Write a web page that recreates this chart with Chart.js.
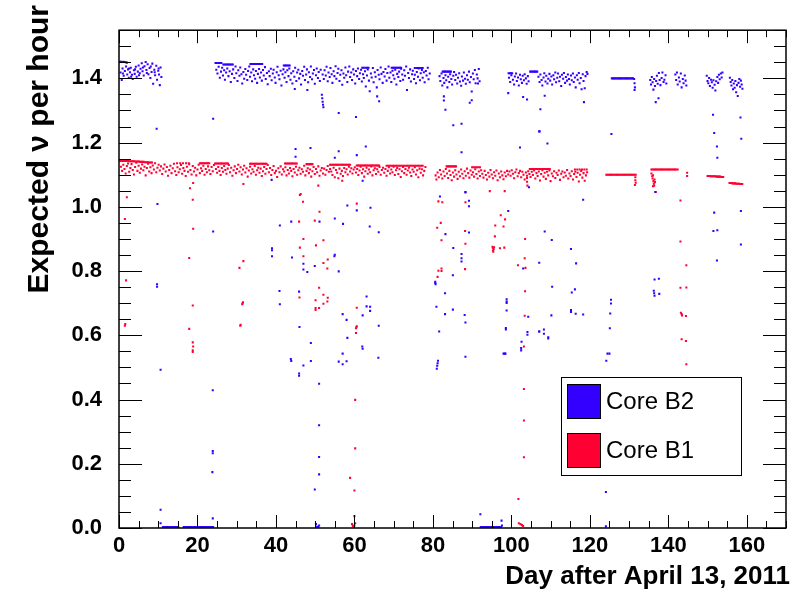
<!DOCTYPE html>
<html>
<head>
<meta charset="utf-8">
<script src="https://cdn.jsdelivr.net/npm/chart.js@4.4.1/dist/chart.umd.min.js"></script>
<style>
  body { margin: 0; background: #fff; }
</style>
</head>
<body>
<canvas id="myChart" width="796" height="591"></canvas>
<script>
// Core B2 (blue): main band as [day, rate]
const b2Band = [
  [0.2,1.452],[0.5,1.452],[0.8,1.451],[1.1,1.452],[1.4,1.451],[1.7,1.450],[2.0,1.449],
  [0.4,1.418],[0.7,1.395],[0.9,1.431],[1.2,1.408],[1.5,1.423],[1.8,1.437],[2.1,1.412],[2.3,1.428],[2.5,1.402],[2.8,1.419],[3.0,1.433],[3.3,1.411],[3.5,1.398],[3.8,1.425],[4.0,1.414],[4.3,1.436],[4.5,1.405],[4.8,1.421],[5.0,1.440],[5.3,1.416],[5.5,1.430],[5.8,1.447],[6.0,1.422],[6.3,1.409],[6.5,1.438],[6.8,1.451],[7.0,1.426],[7.3,1.444],[7.5,1.413],[7.8,1.432],[8.0,1.401],[8.3,1.420],[8.5,1.446],[8.7,1.383],[9.0,1.427],[9.2,1.410],[9.5,1.439],[9.7,1.396],[10.0,1.424],[10.2,1.412],[10.4,1.379],[10.6,1.434],[10.8,1.404],
  [1.0,1.415],[2.6,1.431],[3.1,1.405],[4.1,1.428],[5.1,1.410],[6.1,1.434],[7.1,1.417],[8.1,1.437],[9.1,1.419],[10.1,1.431],
  [24.6,1.448],[24.9,1.448],[25.2,1.448],[25.5,1.448],[25.8,1.448],[26.1,1.448],[26.6,1.443],[26.9,1.443],[27.2,1.443],[27.5,1.443],[27.8,1.443],[28.1,1.443],[28.4,1.443],[28.7,1.443],[29.0,1.443],
  [33.5,1.445],[33.8,1.445],[34.1,1.445],[34.4,1.445],[34.7,1.445],[35.0,1.445],[35.3,1.445],[35.6,1.445],[35.9,1.445],[36.2,1.445],[36.5,1.445],
  [42.0,1.440],[42.3,1.440],[42.6,1.440],[42.9,1.440],[43.2,1.440],[43.5,1.440],
  [62.0,1.433],[62.4,1.433],[62.8,1.433],[63.2,1.433],[63.6,1.433],
  [69.5,1.433],[69.8,1.433],[70.1,1.433],[70.4,1.433],[70.7,1.433],[71.0,1.433],[71.3,1.433],[71.6,1.433],[71.9,1.433],
  [75.4,1.432],[75.8,1.432],[76.2,1.432],[76.6,1.432],[77.0,1.432],[77.4,1.432],
  [24.8,1.427],[25.1,1.415],[25.4,1.436],[25.7,1.402],[26.0,1.421],[26.3,1.433],[26.5,1.409],[26.8,1.425],[27.0,1.396],[27.3,1.418],[27.6,1.431],[27.9,1.407],[28.2,1.422],[28.5,1.389],[28.8,1.414],[29.1,1.428],[29.4,1.401],[29.7,1.437],[29.9,1.416],[30.2,1.392],[30.4,1.425],[30.7,1.408],[30.9,1.434],[31.2,1.413],[31.4,1.384],[31.7,1.420],[31.9,1.399],[32.2,1.429],[32.4,1.411],[32.7,1.395],[32.9,1.423],[33.2,1.437],[33.4,1.405],[33.7,1.418],[33.9,1.391],[34.2,1.428],[34.4,1.410],[34.7,1.399],[34.9,1.423],[35.2,1.386],[35.4,1.414],[35.7,1.429],[35.9,1.403],[36.2,1.418],[36.4,1.393],[36.7,1.426],[36.9,1.409],[37.2,1.435],[37.4,1.398],[37.7,1.417],[37.9,1.382],[38.2,1.422],[38.4,1.407],[38.7,1.430],[38.9,1.394],[39.2,1.415],[39.4,1.427],[39.7,1.403],[39.9,1.386],[40.2,1.419],[40.4,1.436],[40.7,1.410],[40.9,1.397],[41.2,1.424],[41.4,1.378],[41.7,1.413],[41.9,1.428],[42.2,1.402],[42.4,1.419],[42.7,1.389],[42.9,1.425],[43.2,1.407],[43.4,1.431],[43.7,1.396],[43.9,1.416],[44.2,1.384],[44.4,1.422],[44.7,1.405],[44.9,1.433],[45.2,1.392],[45.4,1.418],[45.7,1.427],[45.9,1.400],[46.2,1.414],[46.4,1.381],[46.7,1.423],[46.9,1.408],[47.2,1.436],[47.4,1.395],[47.7,1.412],[47.9,1.428],[48.2,1.388],[48.4,1.419],[48.7,1.404],[48.9,1.437],[49.2,1.397],[49.4,1.415],[49.7,1.426],[49.9,1.383],[50.2,1.410],[50.4,1.431],[50.7,1.401],[50.9,1.420],[51.2,1.392],[51.4,1.427],[51.9,1.412],[52.2,1.398],[52.4,1.425],[52.7,1.409],[52.9,1.436],[53.2,1.391],[53.4,1.418],[53.7,1.404],[53.9,1.432],[54.2,1.413],[54.4,1.386],[54.7,1.422],[54.9,1.407],[55.2,1.438],[55.4,1.399],[55.7,1.417],[55.9,1.430],[56.2,1.392],[56.4,1.411],[56.7,1.425],[56.9,1.380],[57.2,1.415],[57.4,1.402],[57.7,1.434],[57.9,1.410],[58.2,1.389],[58.4,1.421],[58.7,1.437],[58.9,1.404],[59.2,1.418],[59.4,1.395],[59.7,1.428],[59.9,1.412],[60.2,1.384],[60.4,1.423],[60.7,1.407],[60.9,1.431],[61.2,1.398],[61.4,1.416],[61.7,1.427],[61.9,1.390],[62.2,1.413],[62.4,1.401],[62.7,1.422],[62.9,1.375],[63.2,1.409],[63.4,1.428],[63.7,1.393],[63.9,1.360],[64.2,1.415],[64.4,1.403],[64.7,1.432],[64.9,1.388],[65.2,1.419],[65.4,1.405],[65.7,1.372],[65.9,1.426],[66.2,1.411],[66.4,1.397],[66.7,1.434],[66.9,1.414],[67.2,1.386],[67.4,1.420],[67.7,1.406],[67.9,1.429],[68.2,1.393],[68.4,1.417],[68.7,1.437],[68.9,1.402],[69.2,1.418],[69.4,1.389],[69.7,1.424],[69.9,1.410],[70.2,1.399],[70.4,1.427],[70.7,1.381],[70.9,1.414],[71.2,1.404],[71.4,1.421],[71.7,1.392],[71.9,1.430],[72.2,1.412],[72.4,1.396],[72.7,1.425],[72.9,1.408],[73.2,1.437],[73.4,1.364],[73.7,1.417],[73.9,1.401],[74.2,1.428],[74.4,1.390],[74.7,1.413],[74.9,1.424],[75.2,1.398],[75.4,1.411],[75.7,1.385],[75.9,1.420],[76.2,1.405],[76.4,1.431],[76.7,1.394],[76.9,1.416],[77.2,1.426],[77.4,1.402],[77.7,1.419],[77.9,1.388],[78.2,1.423],[78.4,1.409],[78.7,1.433],[78.9,1.397],[79.2,1.415],
  [82.5,1.421],[82.8,1.421],[83.1,1.421],[83.4,1.421],[83.7,1.421],[84.0,1.421],[84.3,1.421],[84.6,1.421],
  [81.7,1.407],[81.9,1.392],[82.2,1.415],[82.4,1.378],[82.7,1.401],[82.9,1.386],[83.2,1.410],[83.4,1.394],[83.7,1.372],[83.9,1.405],[84.2,1.389],[84.4,1.413],[84.7,1.398],[84.9,1.381],[85.2,1.408],[85.4,1.420],[85.7,1.395],[85.9,1.411],[86.2,1.384],[86.4,1.402],[86.7,1.416],[86.9,1.390],[87.2,1.377],[87.4,1.406],[87.7,1.393],[87.9,1.418],[88.2,1.399],[88.4,1.383],[88.7,1.410],[88.9,1.396],[89.2,1.421],[89.4,1.388],[89.7,1.404],[89.9,1.359],[90.2,1.415],[90.4,1.397],[90.7,1.426],[90.9,1.385],[91.2,1.412],[91.4,1.400],[91.7,1.429],[91.9,1.391],
  [99.3,1.416],[99.6,1.416],[99.9,1.416],[100.2,1.416],[104.8,1.421],[105.1,1.421],[105.4,1.421],[105.7,1.421],[106.0,1.421],[106.3,1.421],[106.6,1.421],
  [99.4,1.402],[99.7,1.389],[100.0,1.410],[100.4,1.396],[100.7,1.381],[100.9,1.406],[101.2,1.415],[101.4,1.392],[101.7,1.403],[101.9,1.378],[102.2,1.411],[102.4,1.397],[102.7,1.386],[102.9,1.408],[103.2,1.394],[103.4,1.413],[103.7,1.400],[103.9,1.383],[104.2,1.407],[104.4,1.391],[106.9,1.405],[107.2,1.389],[107.4,1.412],[107.7,1.395],[107.9,1.378],[108.2,1.403],[108.4,1.416],[108.7,1.390],[108.9,1.408],[109.2,1.384],[109.4,1.399],[109.7,1.414],[109.9,1.393],[110.2,1.406],[110.4,1.381],[110.7,1.410],[110.9,1.397],[111.2,1.418],[111.4,1.388],[111.7,1.402],[111.9,1.415],[112.2,1.391],[112.4,1.405],[112.7,1.376],[112.9,1.411],[113.2,1.399],[113.4,1.417],[113.7,1.386],[113.9,1.404],[114.2,1.393],[114.4,1.412],[114.7,1.398],[114.9,1.381],[115.2,1.409],[115.4,1.394],[115.7,1.415],[115.9,1.389],[116.2,1.403],[116.4,1.372],[116.7,1.410],[116.9,1.396],[117.2,1.417],[117.4,1.385],[117.7,1.401],[117.9,1.366],[118.2,1.413],[118.4,1.392],[118.7,1.369],[118.9,1.407],[119.2,1.420],[119.4,1.414],
  [125.6,1.40],[125.9,1.40],[126.2,1.40],[126.5,1.40],[126.8,1.40],[127.1,1.40],[127.4,1.40],[127.7,1.40],[128.0,1.40],[128.3,1.40],[128.6,1.40],[128.9,1.40],[129.2,1.40],[129.5,1.40],[129.8,1.40],[130.1,1.40],[130.4,1.40],[130.7,1.40],[131.0,1.40],[131.3,1.398],[131.4,1.385],[131.5,1.372],[131.4,1.364],
  [135.4,1.395],[135.6,1.381],[135.8,1.404],[136.0,1.388],[136.2,1.365],[136.4,1.398],[136.6,1.376],[136.9,1.392],[137.1,1.408],[137.3,1.383],[137.6,1.417],[137.8,1.395],[138.0,1.379],[138.3,1.401],[138.5,1.418],[138.8,1.389],[139.0,1.396],[139.3,1.410],[139.5,1.384],
  [141.8,1.412],[142.0,1.395],[142.2,1.418],[142.4,1.381],[142.7,1.403],[142.9,1.390],[143.2,1.415],[143.4,1.372],[143.7,1.398],[143.9,1.385],[144.2,1.409],[144.4,1.393],[144.6,1.378],
  [149.8,1.408],[150.0,1.392],[150.2,1.385],[150.4,1.401],[150.6,1.376],[150.9,1.396],[151.1,1.388],[151.3,1.371],[151.5,1.394],[151.8,1.380],[152.0,1.362],[152.2,1.391],[152.5,1.404],[152.7,1.386],[152.9,1.411],[153.1,1.397],[153.4,1.415],[153.6,1.403],[153.8,1.418],
  [155.7,1.402],[155.9,1.389],[156.1,1.378],[156.3,1.395],[156.5,1.366],[156.7,1.384],[156.9,1.371],[157.1,1.392],[157.3,1.357],[157.5,1.379],[157.7,1.345],[157.9,1.386],[158.1,1.398],[158.3,1.374],[158.5,1.393],[158.7,1.381],[158.9,1.368]
];

// Core B2: days with zero rate
const b2Zero = [
  [11.2,0.003],[11.6,0.003],[12.0,0.003],[12.4,0.003],[12.8,0.003],[13.2,0.003],[13.6,0.003],[14.0,0.003],[14.4,0.003],[14.8,0.003],[15.1,0.003],
  [16.5,0.003],[16.9,0.003],[17.3,0.003],[17.7,0.003],[18.1,0.003],[18.5,0.003],[18.9,0.003],[19.3,0.003],[19.7,0.003],[20.1,0.003],[20.5,0.003],[20.9,0.003],[21.3,0.003],[21.7,0.003],[22.1,0.003],[22.5,0.003],[22.9,0.003],[23.3,0.003],[23.7,0.003],[24.0,0.003],
  [50.2,0.012],[50.5,0.004],[50.8,0.003],[51.0,0.008],
  [92.2,0.003],[92.6,0.003],[93.0,0.003],[93.4,0.003],[93.8,0.003],[94.2,0.003],[94.6,0.003],[95.0,0.003],[95.4,0.003],[95.8,0.003],[96.2,0.003],[96.6,0.003],[97.0,0.003],[97.4,0.003],[97.6,0.008]
];

// Core B2: scattered low points
const b2Low = [
  [9.6,1.243],[9.8,1.009],[9.7,0.759],[9.7,0.751],[10.6,0.493],[10.6,0.057],[10.6,0.015],
  [24.0,1.274],[24.0,0.923],[23.9,0.429],[23.9,0.24],[23.9,0.233],[23.8,0.174],[23.9,0.03],
  [38.9,1.084],[45.0,1.18],[45.0,1.156],[48.8,1.183],[44.8,1.367],[48.0,1.364],
  [51.7,1.349],[51.8,1.338],[51.9,1.327],[52.0,1.318],[52.1,1.31],
  [56.0,1.292],[60.4,1.28],[65.8,1.344],[66.3,1.329],[62.9,1.188],[60.6,1.161],[56.0,1.173],[55.0,1.153],[62.1,1.081],
  [83.2,1.302],[82.8,1.344],[82.8,1.331],[85.2,1.254],[87.3,1.259],[89.9,1.332],[89.4,1.324],[87.3,1.17],[88.3,1.046],
  [99.2,1.354],[103.0,1.342],[104.0,1.334],[102.2,1.185],[104.5,1.061],[107.1,1.235],[91.5,1.384],
  [43.9,0.954],[41.0,0.942],[51.1,0.954],[39.0,0.871],[39.0,0.865],[39.0,0.846],[44.1,0.842],[47.0,0.823],[47.0,0.805],[48.0,0.797],[49.9,0.816],[40.9,0.738],[45.9,0.736],[41.0,0.697],[46.0,0.626],[48.9,0.576],[43.8,0.526],[43.9,0.52],[48.9,0.52],[47.0,0.506],[45.9,0.481],[45.9,0.474],
  [51.0,0.449],[51.0,0.32],[51.0,0.221],[51.0,0.167],[49.9,0.12],
  [58.2,1.004],[60.6,0.989],[64.1,0.997],[55.0,0.964],[57.1,0.947],[63.9,0.939],[66.2,0.921],[55.0,0.851],[54.9,0.846],[56.0,0.799],[63.1,0.721],[63.1,0.69],[64.0,0.689],[64.0,0.676],[57.0,0.666],[62.1,0.662],[58.0,0.648],[66.2,0.63],[58.2,0.592],[62.0,0.565],[62.1,0.558],[57.0,0.543],[66.1,0.53],[56.0,0.518],[58.0,0.519],[57.0,0.51],
  [81.8,1.032],[88.3,1.045],[89.2,1.019],[89.2,1.002],[83.2,0.915],[89.2,0.92],[85.2,0.872],[87.3,0.853],[87.3,0.84],[87.3,0.83],[85.1,0.787],[80.6,0.767],[80.6,0.763],[80.7,0.759],[83.1,0.731],[80.9,0.689],[83.1,0.666],[85.1,0.68],[88.1,0.663],[88.3,0.64],[81.6,0.612],[81.3,0.521],[81.2,0.513],[81.1,0.505],[81.0,0.496],[88.3,0.533],
  [99.2,0.987],[103.0,0.808],[98.8,0.712],[98.8,0.705],[98.8,0.701],[98.8,0.677],[104.3,0.658],[98.6,0.623],[98.6,0.618],[104.1,0.61],[104.1,0.602],[102.6,0.58],[102.5,0.56],[102.5,0.553],[98.0,0.543],[98.3,0.543],[98.5,0.543],[107.1,0.612],
  [92.1,0.043],[97.5,0.023],
  [118.3,1.022],[108.5,0.923],[110.3,0.897],[115.2,0.869],[107.1,0.826],[116.5,0.824],[110.4,0.751],[116.2,0.743],[115.4,0.733],[125.4,0.711],[125.4,0.699],[125.2,0.668],[115.2,0.679],[115.2,0.673],[116.4,0.667],[118.3,0.665],[110.2,0.662],[107.1,0.612],[108.3,0.618],[108.3,0.605],[109.4,0.594],[109.4,0.59],[125.1,0.622],[124.5,0.543],[125.0,0.543],[124.2,0.521],[124.1,0.112],[124.1,0.005],
  [136.7,1.046],[136.5,0.774],[137.6,0.776],[136.3,0.739],[136.4,0.731],[136.5,0.723],[137.7,0.729],
  [151.7,0.982],[158.5,0.987],[151.5,0.925],[152.5,0.927],[158.5,0.883],[152.4,0.833],
  [108.5,1.346],[107.4,1.304],[118.5,1.326],[107.2,1.235],[109.2,1.197],[125.5,1.227],[136.8,1.326],[137.5,1.338],[151.4,1.287],[158.4,1.278],[151.7,1.23],[152.4,1.188],[158.6,1.212],[152.5,1.153]
];

// Core B1 (red): main band
const b1Band = [
  [0.3,1.143],[0.6,1.143],[0.9,1.143],[1.2,1.143],[1.5,1.143],[1.8,1.143],[2.1,1.143],[2.4,1.143],[2.7,1.142],[3.0,1.142],[3.3,1.142],[3.6,1.142],[3.9,1.142],[4.2,1.141],[4.5,1.141],[4.8,1.141],[5.1,1.141],[5.4,1.140],[5.7,1.140],[6.0,1.140],[6.3,1.140],[6.6,1.139],[6.9,1.139],[7.2,1.139],[7.5,1.139],[7.8,1.138],[8.1,1.138],[8.4,1.138],
  [0.5,1.125],[0.8,1.112],[1.1,1.131],[1.4,1.118],[1.7,1.104],[2.0,1.127],[2.3,1.135],[2.6,1.109],[2.9,1.121],[3.2,1.133],[3.5,1.115],[3.8,1.101],[4.1,1.124],[4.4,1.137],[4.7,1.112],[5.0,1.128],[5.3,1.106],[5.6,1.119],[5.9,1.132],[6.2,1.114],[6.5,1.125],[6.8,1.098],[7.1,1.121],[7.4,1.134],[7.7,1.110],[8.0,1.123],[8.3,1.105],[8.6,1.129],[8.9,1.116],[9.2,1.136],[9.5,1.108],[9.8,1.122],[10.1,1.131],[10.4,1.113],[10.7,1.126],[11.0,1.102],[11.3,1.119],[11.6,1.132],[11.9,1.110],[12.2,1.124],[12.5,1.097],[12.8,1.115],[13.1,1.128],[13.4,1.105],[13.7,1.120],[14.0,1.134],[14.3,1.111],[14.6,1.099],[14.9,1.123],[15.2,1.108],[15.5,1.117],[15.8,1.130],[16.1,1.103],[16.4,1.121],[16.7,1.112],[17.0,1.096],[17.3,1.125],[17.6,1.109],[17.9,1.133],[18.2,1.115],[18.5,1.101],[18.8,1.127],[19.1,1.110],[19.4,1.122],[19.7,1.098],[20.0,1.116],[20.3,1.131],[20.6,1.105],[20.9,1.120],[21.2,1.112],[21.5,1.128],[21.8,1.100],[22.1,1.118],[22.4,1.108],[22.7,1.126],[23.0,1.114],[23.3,1.102],[23.6,1.124],[23.9,1.111],[24.2,1.130],
  [14.8,1.136],[15.6,1.136],[16.3,1.136],[17.1,1.136],[17.8,1.136],
  [20.6,1.136],[20.9,1.136],[21.2,1.136],[21.5,1.136],[21.8,1.136],[22.1,1.136],[22.4,1.136],[22.7,1.136],[23.0,1.136],
  [24.5,1.135],[24.8,1.135],[25.1,1.135],[25.4,1.135],[25.7,1.135],[26.0,1.135],[26.3,1.135],[26.6,1.135],[26.9,1.135],[27.2,1.135],[27.5,1.135],[27.8,1.135],
  [33.4,1.134],[33.7,1.134],[34.0,1.134],[34.3,1.134],[34.6,1.134],[34.9,1.134],[35.2,1.134],[35.5,1.134],[35.8,1.134],[36.1,1.134],[36.4,1.134],[36.7,1.134],[37.0,1.134],[37.3,1.134],[37.6,1.134],
  [42.3,1.135],[42.6,1.135],[42.9,1.135],[43.2,1.135],[43.5,1.135],[43.8,1.135],[44.1,1.135],[44.4,1.135],[44.7,1.135],[45.0,1.135],[45.3,1.135],
  [47.8,1.133],[48.1,1.133],[48.4,1.133],[48.7,1.133],[49.0,1.133],[49.3,1.133],
  [53.8,1.131],[54.1,1.131],[54.4,1.131],[54.7,1.131],[55.0,1.131],[55.3,1.131],[55.6,1.131],[55.9,1.131],[56.2,1.131],[56.5,1.131],[56.8,1.131],[57.1,1.131],[57.4,1.131],[57.7,1.131],[58.0,1.131],[58.3,1.131],[58.6,1.131],[58.9,1.131],
  [60.6,1.129],[60.9,1.129],[61.2,1.129],[61.5,1.129],[61.8,1.129],[62.1,1.129],[62.4,1.129],[62.7,1.129],[63.0,1.129],[63.3,1.129],[63.6,1.129],[63.9,1.129],[64.2,1.129],[64.5,1.129],[64.8,1.129],[65.1,1.129],[65.4,1.129],[65.7,1.129],[66.0,1.129],[66.3,1.129],
  [68.2,1.128],[68.6,1.128],[69.0,1.128],[69.4,1.128],[69.8,1.128],[70.2,1.128],[70.6,1.128],[71.0,1.128],[71.4,1.128],[71.8,1.128],[72.2,1.128],[72.6,1.128],[73.0,1.128],[73.4,1.128],[73.8,1.128],[74.2,1.128],[74.6,1.128],[75.0,1.128],[75.4,1.128],[75.8,1.128],[76.2,1.128],[76.6,1.128],[77.0,1.128],[77.4,1.128],
  [24.7,1.118],[25.0,1.106],[25.3,1.124],[25.6,1.112],[25.9,1.099],[26.2,1.121],[26.5,1.109],[26.8,1.127],[27.1,1.115],[27.4,1.103],[27.7,1.119],[28.0,1.130],[28.3,1.108],[28.6,1.122],[28.9,1.097],[29.2,1.114],[29.5,1.126],[29.8,1.105],[30.1,1.118],[30.4,1.131],[30.7,1.110],[31.0,1.123],[31.3,1.101],[31.6,1.116],[31.9,1.128],[32.2,1.107],[32.5,1.120],[32.8,1.094],[33.1,1.113],[33.4,1.125],[33.7,1.104],[34.0,1.117],[34.3,1.109],[34.6,1.127],[34.9,1.100],[35.2,1.114],[35.5,1.122],[35.8,1.106],[36.1,1.119],[36.4,1.096],[36.7,1.111],[37.0,1.124],[37.3,1.103],[37.6,1.118],[37.9,1.130],[38.2,1.108],[38.5,1.121],[38.8,1.099],[39.1,1.115],[39.4,1.127],[39.7,1.105],[40.0,1.112],[40.3,1.093],[40.6,1.120],[40.9,1.108],[41.2,1.126],[41.5,1.101],[41.8,1.117],[42.1,1.110],[42.4,1.123],[42.7,1.098],[43.0,1.115],[43.3,1.104],[43.6,1.121],[43.9,1.112],[44.2,1.095],[44.5,1.118],[44.8,1.107],[45.1,1.125],[45.4,1.100],[45.7,1.114],[46.0,1.122],[46.3,1.103],[46.6,1.117],[46.9,1.109],[47.2,1.128],[47.5,1.098],[47.8,1.112],[48.1,1.120],[48.4,1.105],[48.7,1.116],[49.0,1.094],[49.3,1.111],[49.6,1.124],[49.9,1.102],[50.2,1.118],[50.5,1.108],[50.8,1.126],[51.1,1.097],[51.4,1.113],[51.7,1.121],[52.0,1.104],[52.3,1.119],[52.6,1.100],[52.9,1.115],[53.2,1.127],[53.5,1.109],[53.8,1.118],
  [54.1,1.110],[54.4,1.099],[54.7,1.122],[55.0,1.092],[55.3,1.115],[55.6,1.106],[55.9,1.089],[56.2,1.119],[56.5,1.103],[56.8,1.112],[57.1,1.096],[57.4,1.121],[57.7,1.108],[58.0,1.117],[58.3,1.101],[58.6,1.125],[58.9,1.110],[59.2,1.120],[59.5,1.104],[59.8,1.116],[60.1,1.123],[60.4,1.107],[60.7,1.118],[61.0,1.099],[61.3,1.113],[61.6,1.125],[61.9,1.105],[62.2,1.117],[62.5,1.094],[62.8,1.111],[63.1,1.122],[63.4,1.103],[63.7,1.116],[64.0,1.108],[64.3,1.126],[64.6,1.098],[64.9,1.114],[65.2,1.120],[65.5,1.102],[65.8,1.117],[66.1,1.109],[66.4,1.124],[66.7,1.100],[67.0,1.115],[67.3,1.122],[67.6,1.106],[67.9,1.118],[68.2,1.097],[68.5,1.112],[68.8,1.123],[69.1,1.104],[69.4,1.116],[69.7,1.108],[70.0,1.125],[70.3,1.099],[70.6,1.114],[70.9,1.121],[71.2,1.102],[71.5,1.117],[71.8,1.093],[72.1,1.111],[72.4,1.124],[72.7,1.105],[73.0,1.118],[73.3,1.100],[73.6,1.113],[73.9,1.122],[74.2,1.107],[74.5,1.096],[74.8,1.116],[75.1,1.109],[75.4,1.123],[75.7,1.101],[76.0,1.114],[76.3,1.092],[76.6,1.119],[76.9,1.106],[77.2,1.117],[77.5,1.098],[77.8,1.112],[78.1,1.124],
  [83.5,1.126],[83.8,1.126],[84.1,1.126],[84.4,1.126],[84.7,1.126],[85.0,1.126],[85.3,1.126],[85.6,1.126],[85.9,1.126],
  [90.0,1.123],[90.4,1.123],[90.8,1.123],[91.2,1.123],[91.6,1.123],[92.0,1.123],
  [80.7,1.098],[80.9,1.085],[81.2,1.107],[81.5,1.092],[81.8,1.115],[82.1,1.101],[82.4,1.088],[82.7,1.110],[83.0,1.096],[83.3,1.118],[83.6,1.104],[83.9,1.090],[84.2,1.112],[84.5,1.099],[84.8,1.083],[85.1,1.107],[85.4,1.094],[85.7,1.114],[86.0,1.101],[86.3,1.087],[86.6,1.109],[86.9,1.095],[87.2,1.116],[87.5,1.103],[87.8,1.089],[88.1,1.111],[88.4,1.097],[88.7,1.119],[89.0,1.105],[89.3,1.091],[89.6,1.113],[89.9,1.100],[90.2,1.108],[90.5,1.094],[90.8,1.117],[91.1,1.102],[91.4,1.088],[91.7,1.110],[92.0,1.096],[92.3,1.114],[92.6,1.103],[92.9,1.091],[93.2,1.112],[93.5,1.099],[93.8,1.085],[94.1,1.106],[94.4,1.094],[94.7,1.115],[95.0,1.101],[95.3,1.089],[95.6,1.108],[95.9,1.097],[96.2,1.113],[96.5,1.083],[96.8,1.104],[97.1,1.092],[97.4,1.110],[97.7,1.098],[98.0,1.086],[98.3,1.107],[98.6,1.095],[98.9,1.112],[99.2,1.101],
  [104.7,1.118],[105.0,1.118],[105.3,1.118],[105.6,1.118],[105.9,1.118],[106.2,1.118],[106.5,1.118],[106.8,1.118],[107.1,1.118],[107.4,1.118],[107.7,1.118],[108.0,1.118],[108.3,1.118],[108.6,1.118],[108.9,1.118],[109.2,1.118],[109.5,1.118],[109.8,1.118],
  [116.2,1.116],[116.8,1.116],[117.4,1.116],[118.0,1.116],[118.6,1.116],[119.2,1.116],
  [99.5,1.110],[99.8,1.097],[100.1,1.114],[100.4,1.103],[100.7,1.089],[101.0,1.108],[101.3,1.116],[101.6,1.095],[101.9,1.105],[102.2,1.112],[102.5,1.092],[102.8,1.109],[103.1,1.100],[103.4,1.085],[103.7,1.107],[104.0,1.097],[104.3,1.111],[104.6,1.102],[104.9,1.093],[105.2,1.109],[105.5,1.099],[105.8,1.113],[106.1,1.088],[106.4,1.105],[106.7,1.096],[107.0,1.110],[107.3,1.082],[107.6,1.102],[107.9,1.114],[108.2,1.094],[108.5,1.106],[108.8,1.087],[109.1,1.109],[109.4,1.098],[109.7,1.113],[110.0,1.080],[110.3,1.104],[110.6,1.095],[110.9,1.111],[111.2,1.090],[111.5,1.106],[111.8,1.099],[112.1,1.113],[112.4,1.084],[112.7,1.103],[113.0,1.110],[113.3,1.092],[113.6,1.107],[113.9,1.097],[114.2,1.115],[114.5,1.088],[114.8,1.104],[115.1,1.096],[115.4,1.111],[115.7,1.085],[116.0,1.102],[116.3,1.109],[116.6,1.093],[116.9,1.106],[117.2,1.079],[117.5,1.100],[117.8,1.112],[118.1,1.091],[118.4,1.105],[118.7,1.081],[119.0,1.098],[119.3,1.108],
  [124.2,1.100],[124.5,1.100],[124.8,1.100],[125.1,1.100],[125.4,1.100],[125.7,1.100],[126.0,1.100],[126.3,1.100],[126.6,1.100],[126.9,1.100],[127.2,1.100],[127.5,1.100],[127.8,1.100],[128.1,1.100],[128.4,1.100],[128.7,1.100],[129.0,1.100],[129.3,1.100],[129.6,1.100],[129.9,1.100],[130.2,1.100],[130.5,1.100],[130.8,1.100],[131.1,1.100],[131.4,1.100],[131.7,1.100],
  [131.6,1.092],[131.6,1.083],[131.7,1.075],[131.5,1.068],
  [135.7,1.116],[136.0,1.116],[136.3,1.116],[136.6,1.116],[136.9,1.116],[137.2,1.116],[137.5,1.116],[137.8,1.116],[138.1,1.116],[138.4,1.116],[138.7,1.116],[139.0,1.116],[139.3,1.116],[139.6,1.116],[139.9,1.116],[140.2,1.116],[140.5,1.116],[140.8,1.116],[141.1,1.116],[141.4,1.116],[141.7,1.116],[142.0,1.116],[142.4,1.116],
  [135.7,1.104],[135.9,1.095],[136.0,1.088],[136.2,1.080],[136.3,1.072],[136.4,1.066],[136.1,1.098],[136.5,1.085],[136.6,1.077],[144.8,1.106],[144.8,1.096],
  [150.0,1.096],[150.25,1.096],[150.5,1.096],[150.75,1.095],[151.0,1.095],[151.25,1.095],[151.5,1.095],[151.75,1.095],[152.0,1.095],[152.25,1.094],[152.5,1.094],[152.75,1.094],[153.0,1.094],[153.25,1.094],[153.5,1.093],[153.75,1.093],[154.0,1.093],
  [155.6,1.074],[155.85,1.074],[156.1,1.074],[156.35,1.073],[156.6,1.073],[156.85,1.073],[157.1,1.073],[157.35,1.072],[157.6,1.072],[157.85,1.072],[158.1,1.072],[158.35,1.071],[158.6,1.071],[158.85,1.071]
];

// Core B1: scattered low points
const b1Low = [
  [2.0,1.03],[1.5,0.962],[1.8,0.771],[1.5,0.63],[1.6,0.635],
  [18.1,1.058],[18.8,1.022],[18.9,1.074],[18.9,0.932],[17.9,0.841],[18.8,0.693],[17.9,0.62],[18.8,0.578],[18.9,0.565],[18.8,0.553],[18.8,0.548],
  [31.7,1.071],[31.7,0.831],[30.7,0.81],[31.5,0.70],[31.6,0.703],[31.4,0.697],[30.9,0.63],[31.0,0.633],
  [46.1,1.037],[46.9,1.016],[46.3,1.04],[50.8,1.066],[51.1,0.985],[45.9,0.954],[49.9,0.957],[47.0,0.90],[52.1,0.896],[46.1,0.873],[50.2,0.88],[47.0,0.846],[53.2,0.836],[52.1,0.825],[53.1,0.808],[51.0,0.748],[52.1,0.726],[53.2,0.717],[46.0,0.718],[50.1,0.709],[52.1,0.698],[53.1,0.705],[50.1,0.685],[50.1,0.679],[51.0,0.685],
  [56.9,1.081],[60.6,1.01],[60.6,0.686],[60.5,0.625],[60.6,0.628],[60.4,0.622],[60.4,0.607],
  [60.2,0.399],[60.2,0.248],[58.9,0.156],[60.0,0.117],[60.0,0.037],[59.4,0.012],[59.6,0.006],[59.8,0.004],[60.0,0.008],[60.2,0.015],
  [94.5,1.049],[98.3,1.049],[104.0,1.09],[104.0,1.078],[104.1,1.066],
  [81.4,1.017],[82.4,1.014],[88.3,1.014],[82.0,0.95],[81.1,0.935],[88.2,0.925],[82.2,0.896],[88.3,0.885],[97.3,0.974],[98.4,0.961],[95.9,0.942],[98.0,0.939],[95.8,0.908],[95.2,0.876],[95.3,0.872],[95.5,0.868],[95.3,0.864],[95.4,0.86],[95.6,0.874],[97.1,0.871],[98.2,0.873],[103.5,0.90],[103.4,0.84],[101.7,0.818],[103.6,0.81],[82.2,0.808],[82.2,0.80],[81.4,0.801],[88.2,0.806],[81.2,0.782],[103.5,0.737],[103.4,0.661],[103.2,0.565],
  [103.2,0.433],[103.2,0.335],[103.2,0.22],[101.8,0.09],[101.9,0.015],[102.3,0.012],[102.7,0.009],[103.0,0.006],
  [136.1,1.064],[136.8,1.046],[143.1,1.02],[143.1,0.892],[144.6,0.818],[143.1,0.748],[144.6,0.749],[143.2,0.67],[143.4,0.666],[143.5,0.662],[144.5,0.66],[143.4,0.588],[144.5,0.582],[144.6,0.51]
];

const seriesLabels = ['Core B2', 'Core B1'];
const seriesColors = ['#3300ff', '#ff0033'];
const yTicks = [0, 0.2, 0.4, 0.6, 0.8, 1.0, 1.2, 1.4];
const xTicks = [0, 20, 40, 60, 80, 100, 120, 140, 160];

const toXY = pts => pts.map(p => ({ x: p[0], y: p[1] }));

// ROOT style frame: inward ticks on all four sides, titles and legend box
const rootFrame = {
  id: 'rootFrame',
  afterDatasetsDraw(chart) {
    const c = chart.ctx, a = chart.chartArea;
    const xs = chart.scales.x, ys = chart.scales.y;
    c.save();
    c.strokeStyle = '#000';
    c.lineWidth = 1;
    c.beginPath();
    for (let v = 0; v <= 170; v += 5) {
      const px = Math.round(xs.getPixelForValue(v)) + 0.5;
      const len = v % 20 === 0 ? 13 : 7;
      c.moveTo(px, a.bottom); c.lineTo(px, a.bottom - len);
      c.moveTo(px, a.top); c.lineTo(px, a.top + len);
    }
    for (let i = 0; i * 0.05 <= 1.5501; i++) {
      const py = Math.round(ys.getPixelForValue(i * 0.05)) + 0.5;
      const len = i % 4 === 0 ? 23 : 12;
      c.moveTo(a.left, py); c.lineTo(a.left + len, py);
      c.moveTo(a.right, py); c.lineTo(a.right - len, py);
    }
    c.stroke();
    c.lineWidth = 1.5;
    c.strokeRect(a.left, a.top, a.right - a.left, a.bottom - a.top);
    c.restore();
  },
  afterDraw(chart) {
    const c = chart.ctx;
    c.save();
    c.fillStyle = '#000';
    c.font = 'bold 26px "Liberation Sans", Arial, sans-serif';
    c.textAlign = 'right';
    c.textBaseline = 'alphabetic';
    c.fillText('Day after April 13, 2011', 790, 584);
    c.font = 'bold 30px "Liberation Sans", Arial, sans-serif';
    c.translate(48, 5);
    c.rotate(-Math.PI / 2);
    c.fillText('Expected \u03bd per hour', 0, 0);
    c.restore();

    // legend
    c.save();
    c.fillStyle = '#fff';
    c.fillRect(561, 377, 180, 98);
    c.strokeStyle = '#000';
    c.lineWidth = 1;
    c.strokeRect(561.5, 377.5, 180, 98);
    const rows = [401, 450];
    chart.data.datasets.forEach((ds, i) => {
      c.fillStyle = ds.backgroundColor;
      c.fillRect(567, rows[i] - 17, 33, 34);
      c.strokeRect(567.5, rows[i] - 16.5, 33, 34);
      c.fillStyle = '#000';
      c.font = '24px "Liberation Sans", Arial, sans-serif';
      c.textAlign = 'left';
      c.textBaseline = 'middle';
      c.fillText(ds.label, 606, rows[i] + 1);
    });
    c.restore();
  }
};

const tickFont = { family: '"Liberation Sans", Arial, sans-serif', size: 22, weight: 'bold' };

new Chart(document.getElementById('myChart').getContext('2d'), {
  type: 'scatter',
  data: {
    datasets: [
      {
        label: seriesLabels[0],
        data: toXY([...b2Band, ...b2Zero, ...b2Low]),
        backgroundColor: seriesColors[0],
        pointStyle: 'rect',
        pointRadius: 1.45,
        borderWidth: 0
      },
      {
        label: seriesLabels[1],
        data: toXY([...b1Band, ...b1Low]),
        backgroundColor: seriesColors[1],
        pointStyle: 'rect',
        pointRadius: 1.45,
        borderWidth: 0
      }
    ]
  },
  options: {
    responsive: false,
    animation: false,
    events: [],
    layout: { padding: { top: 8, right: 10, left: 0, bottom: 0 } },
    plugins: { legend: { display: false }, tooltip: { enabled: false } },
    scales: {
      x: {
        type: 'linear',
        min: 0,
        max: 170,
        afterFit(s) { s.height = 63; },
        afterBuildTicks(s) { s.ticks = xTicks.map(v => ({ value: v })); },
        grid: { display: false, drawTicks: false },
        border: { display: false },
        ticks: { padding: 5, color: '#000', font: tickFont, maxRotation: 0, autoSkip: false }
      },
      y: {
        type: 'linear',
        min: 0,
        max: 1.55,
        afterFit(s) { s.width = 119; },
        afterBuildTicks(s) { s.ticks = yTicks.map(v => ({ value: v })); },
        grid: { display: false, drawTicks: false },
        border: { display: false },
        ticks: { padding: 17, color: '#000', font: tickFont, callback: v => v.toFixed(1) }
      }
    }
  },
  plugins: [rootFrame]
});
</script>
</body>
</html>
